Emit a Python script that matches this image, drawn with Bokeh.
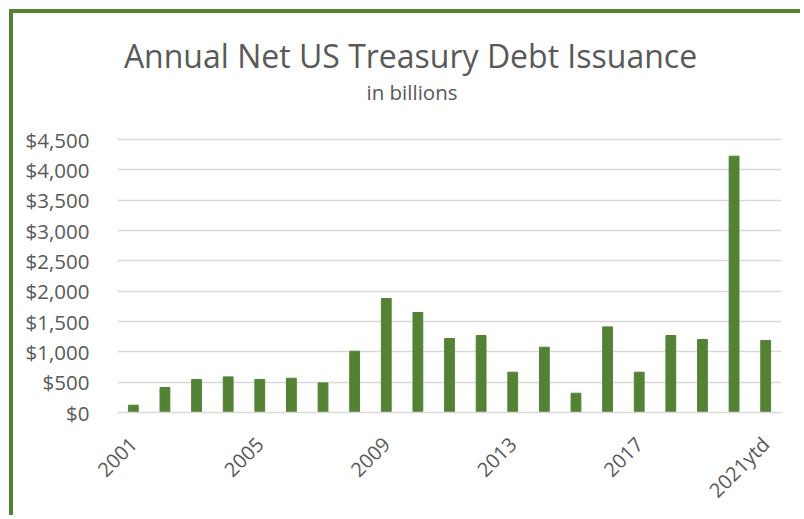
from bokeh.plotting import figure
from bokeh.models import FixedTicker, NumeralTickFormatter, Label, Range1d
from bokeh.embed import file_html
from bokeh.resources import INLINE

# ---- data ----
years = ["2001", "2002", "2003", "2004", "2005", "2006", "2007", "2008", "2009", "2010",
         "2011", "2012", "2013", "2014", "2015", "2016", "2017", "2018", "2019", "2020", "2021ytd"]
issuance = [120, 412, 544, 587, 544, 565, 488, 1010, 1879, 1648,
            1220, 1269, 664, 1076, 318, 1411, 664, 1269, 1203, 4225, 1187]
y_ticks = [0, 500, 1000, 1500, 2000, 2500, 3000, 3500, 4000, 4500]
label_every = 4
title_text = "Annual Net US Treasury Debt Issuance"
subtitle_text = "in billions"

GREEN = "#548235"
TEXT = "#595959"
GRID = "#d9d9d9"
FONT = "Open Sans"

# ---- layout (pixels) ----
W, H = 791, 506
BORDER_L, BORDER_R, BORDER_B = 104, 23, 107
GRID_TOP = 126                       # where the top gridline sits below the canvas top
frame_h = H - BORDER_B               # frame extends to the canvas top (room for the titles)
y_end = y_ticks[-1] * frame_h / (frame_h - GRID_TOP)

xs = list(range(1, len(years) + 1))
tick_pos = xs[::label_every]
tick_overrides = {x: years[x - 1] for x in tick_pos}

p = figure(width=W, height=H, output_backend="svg", toolbar_location=None, title_location=None,
           x_range=Range1d(0.5, len(years) + 0.5), y_range=Range1d(0, y_end),
           min_border_left=BORDER_L, min_border_right=BORDER_R, min_border_top=0,
           min_border_bottom=BORDER_B)
p.styles = {"margin-left": "9px", "margin-top": "9px",
            "border-left": f"4px solid {GREEN}", "border-top": f"4px solid {GREEN}"}
p.outline_line_color = None
p.background_fill_color = "white"
p.border_fill_color = "white"

p.vbar(x=xs, top=issuance, width=0.31, color=GREEN)

# y axis
p.yaxis.ticker = FixedTicker(ticks=y_ticks)
p.yaxis.formatter = NumeralTickFormatter(format="$0,0")
p.yaxis.axis_line_color = None
p.yaxis.major_tick_line_color = None
p.yaxis.minor_tick_line_color = None
p.yaxis.major_label_standoff = 22
p.yaxis.major_label_text_font = FONT
p.yaxis.major_label_text_font_size = "20.5px"
p.yaxis.major_label_text_color = TEXT

# x axis
p.xaxis.ticker = FixedTicker(ticks=tick_pos)
p.xaxis.major_label_overrides = tick_overrides
p.xaxis.major_label_orientation = 0.7853981634
p.xaxis.axis_line_color = GRID
p.xaxis.axis_line_width = 1.5
p.xaxis.major_tick_line_color = None
p.xaxis.minor_tick_line_color = None
p.xaxis.major_label_standoff = 22
p.xaxis.major_label_text_font = FONT
p.xaxis.major_label_text_font_size = "20px"
p.xaxis.major_label_text_color = TEXT

p.xgrid.grid_line_color = None
p.ygrid.ticker = FixedTicker(ticks=y_ticks)
p.ygrid.grid_line_color = GRID
p.ygrid.grid_line_width = 1.5

# titles (screen units, relative to the frame's bottom-left corner)
p.add_layout(Label(x=293, y=357, x_units="screen", y_units="screen", text=title_text,
                   text_align="center", text_baseline="alphabetic", text_font=FONT,
                   text_font_size="32px", text_color=TEXT))
p.add_layout(Label(x=294.5, y=321, x_units="screen", y_units="screen", text=subtitle_text,
                   text_align="center", text_baseline="alphabetic", text_font=FONT,
                   text_font_size="20.5px", text_color=TEXT))

open("out.html", "w").write(file_html(p, INLINE))
